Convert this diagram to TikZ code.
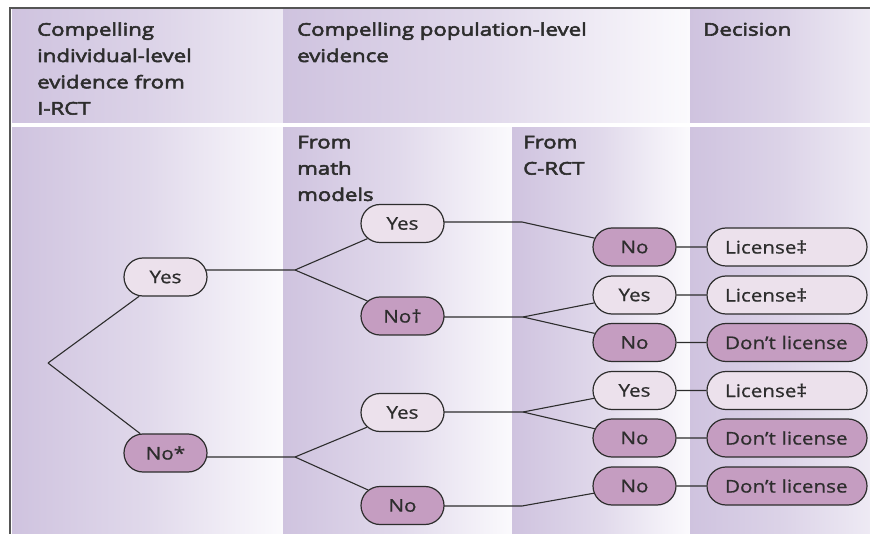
\documentclass[tikz,border=0pt]{standalone}
\usepackage{fontspec}
\setmainfont[FakeStretch=1.18,FakeBold=0.8]{Open Sans}
\newfontfamily\hdfont[FakeStretch=1.27,FakeBold=3.2]{Open Sans}
\usetikzlibrary{shapes.misc}
\pgfdeclarelayer{bg}
\pgfsetlayers{bg,main}
\definecolor{bandL}{RGB}{207,195,223}
\definecolor{bandW}{RGB}{251,250,253}
\definecolor{bandP}{RGB}{238,234,244}
\definecolor{nodeL}{RGB}{236,225,236}
\definecolor{nodeD}{RGB}{197,157,193}
\definecolor{ink}{RGB}{45,45,45}
\definecolor{framec}{RGB}{85,85,85}
\tikzset{
 band/.style={left color=bandL,right color=#1,middle color=bandL!60!#1, draw=none},
 choice/.style={rounded rectangle, draw=ink, line width=1.2pt, minimum height=38pt,
   minimum width=83pt, inner sep=0pt, text=ink, font=\fontsize{17.5}{20}\selectfont},
 yesbox/.style={choice, fill=nodeL},
 nobox/.style={choice, fill=nodeD},
 wide/.style={minimum width=160pt, text width=124pt, align=left},
 head/.style={anchor=base west, align=left, inner sep=0pt, text=ink,
   font=\hdfont\fontsize{17.5}{26.3}\selectfont},
 link/.style={draw=ink, line width=1.1pt}
}
\begin{document}
\begin{tikzpicture}[x=1pt,y=-1pt]
\useasboundingbox (0,0) rectangle (870,534);

% column bands
\begin{pgfonlayer}{bg}
\fill[white] (0,0) rectangle (870,534);
\shade[band=bandP] (12,10) rectangle (283,123);
\shade[band=bandW] (283,10) rectangle (690,123);
\shade[band=bandP] (690,10) rectangle (870,123);
\shade[band=bandW] (12,128) rectangle (283,534);
\shade[band=bandW] (283,128) rectangle (512,534);
\shade[band=bandW] (512,128) rectangle (690,534);
\shade[band=bandP] (690,128) rectangle (870,534);
\end{pgfonlayer}

\draw[framec, line width=1.5pt] (10,534) -- (10,8) -- (870,8);

% headers (base anchor = baseline of the last line)
\node[head] (h1) at (37,114.6) {Compelling\\individual-level\\evidence from\\I-RCT};
\node[head] (h2) at (297,62) {Compelling population-level\\evidence};
\node[head] (h3) at (703,35.7) {Decision};
\node[head] (h4) at (297,200.9) {From\\math\\models};
\node[head] (h5) at (523,174.6) {From\\C-RCT};

% tree nodes
\coordinate (root) at (48,363);
\node[yesbox] (y1) at (165.5,277) {Yes};
\node[nobox]  (n1) at (165.5,453) {No*};

\coordinate (b1) at (295,270);
\coordinate (b2) at (295,457);
\node[yesbox] (my1) at (402.5,223.5) {Yes};
\node[nobox]  (mn1) at (402.5,316) {No†};
\node[yesbox] (my2) at (402.5,412.5) {Yes};
\node[nobox]  (mn2) at (402.5,505.5) {No};

\coordinate (c1) at (522,222);
\coordinate (c2) at (523,317);
\coordinate (c3) at (523,412);
\coordinate (c4) at (522,506);
\node[nobox]  (cn1) at (634.5,247) {No};
\node[yesbox] (cy2) at (634.5,295) {Yes};
\node[nobox]  (cn2) at (634.5,342.5) {No};
\node[yesbox] (cy3) at (634.5,390.5) {Yes};
\node[nobox]  (cn3) at (634.5,438) {No};
\node[nobox]  (cn4) at (634.5,486) {No};

\node[yesbox,wide] (d1) at (787,247) {License‡};
\node[yesbox,wide] (d2) at (787,295) {License‡};
\node[nobox,wide]  (d3) at (787,342.5) {Don’t license};
\node[yesbox,wide] (d4) at (787,390.5) {License‡};
\node[nobox,wide]  (d5) at (787,438) {Don’t license};
\node[nobox,wide]  (d6) at (787,486) {Don’t license};

% connectors
\begin{pgfonlayer}{bg}
\draw[link] (root) -- (y1);
\draw[link] (root) -- (n1);
\draw[link] (b1 -| y1.center) -- (b1) -- (my1);
\draw[link] (b1) -- (mn1);
\draw[link] (b2 -| n1.center) -- (b2) -- (my2);
\draw[link] (b2) -- (mn2);
\draw[link] (c1 -| my1.center) -- (c1) -- (cn1);
\draw[link] (c2 -| mn1.center) -- (c2) -- (cy2);
\draw[link] (c2) -- (cn2);
\draw[link] (c3 -| my2.center) -- (c3) -- (cy3);
\draw[link] (c3) -- (cn3);
\draw[link] (c4 -| mn2.center) -- (c4) -- (cn4);
\draw[link] (cn1) -- (d1);
\draw[link] (cy2) -- (d2);
\draw[link] (cn2) -- (d3);
\draw[link] (cy3) -- (d4);
\draw[link] (cn3) -- (d5);
\draw[link] (cn4) -- (d6);
\end{pgfonlayer}
\end{tikzpicture}
\end{document}
